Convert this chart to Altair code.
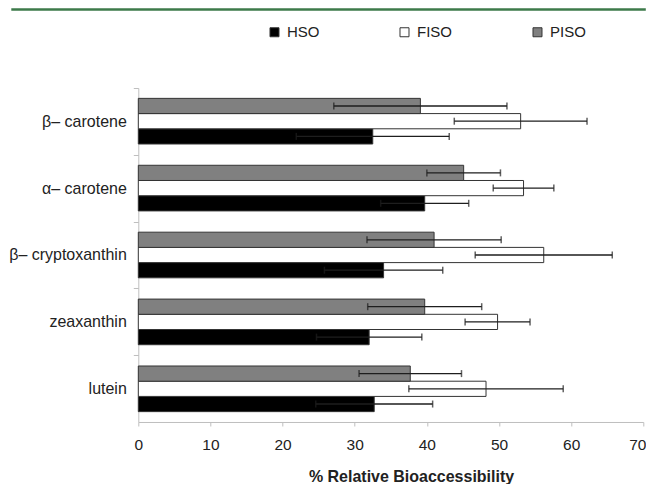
import altair as alt
import pandas as pd

categories = ["β– carotene", "α– carotene", "β– cryptoxanthin", "zeaxanthin", "lutein"]
series = ["HSO", "FISO", "PISO"]
hso_mean = [32.5, 39.7, 34.0, 32.0, 32.7]
hso_err = [10.6, 6.1, 8.2, 7.3, 8.1]
fiso_mean = [53.0, 53.4, 56.2, 49.8, 48.2]
fiso_err = [9.2, 4.2, 9.5, 4.5, 10.7]
piso_mean = [39.1, 45.1, 41.0, 39.7, 37.7]
piso_err = [12.0, 5.1, 9.3, 7.9, 7.1]
x_ticks = [0, 10, 20, 30, 40, 50, 60, 70]

rows = []
for s, means, errs in [("HSO", hso_mean, hso_err), ("FISO", fiso_mean, fiso_err), ("PISO", piso_mean, piso_err)]:
    for c, m, e in zip(categories, means, errs):
        rows.append({"cat": c, "series": s, "value": m, "lo": m - e, "hi": m + e})
df = pd.DataFrame(rows)

W, H = 505, 334
PI, PO = 0.318, 0.155
step = H / (len(categories) - PI + 2 * PO)

font = "Liberation Sans"

y_enc = alt.Y("cat:N", sort=categories, title=None,
              scale=alt.Scale(paddingInner=PI, paddingOuter=PO),
              axis=alt.Axis(domainColor="#bfbfbf", tickColor="#bfbfbf", tickSize=5,
                            tickOffset=-step / 2, labelOffset=step / 2,
                            labelFont=font, labelFontSize=16, labelColor="#222",
                            labelPadding=7, labelLimit=200))
yoff = alt.YOffset("series:N", sort=["PISO", "FISO", "HSO"],
                   scale=alt.Scale(domain=["PISO", "FISO", "HSO"], paddingInner=0, paddingOuter=0))

bars = alt.Chart(df).mark_bar(stroke="#333", strokeWidth=1).encode(
    x=alt.X("value:Q", scale=alt.Scale(domain=[0, 70], nice=False),
            title="% Relative Bioaccessibility",
            axis=alt.Axis(values=x_ticks, grid=False, domainColor="#bfbfbf", tickColor="#bfbfbf",
                          tickSize=4, labelFont=font, labelFontSize=15.5, labelColor="#222",
                          labelPadding=12, labelFlush=False, labelOverlap=False,
                          labelOffset={"condition": {"test": "datum.value === 70", "value": -6}, "value": 0},
                          titleFont=font, titleFontSize=16, titleFontWeight="bold",
                          titleColor="#222", titleX=272.7, titleY=60, titleBaseline="alphabetic")),
    y=y_enc,
    yOffset=yoff,
    color=alt.Color("series:N", scale=alt.Scale(domain=series, range=["#000000", "#ffffff", "#808080"]),
                    legend=alt.Legend(title=None, orient="none", direction="horizontal",
                                      legendX=128.7, legendY=-63.5, symbolType="square", symbolSize=81,
                                      symbolStrokeColor="#333", symbolStrokeWidth=1,
                                      labelFont=font, labelFontSize=15, labelColor="#222",
                                      labelOffset=5, columnPadding=77, padding=0)),
)

err_line = alt.Chart(df).mark_rule(color="#1e1e1e", strokeWidth=1.3).encode(
    x="lo:Q", x2="hi:Q", y=alt.Y("cat:N", sort=categories), yOffset=yoff)
cap_lo = alt.Chart(df).mark_tick(color="#1e1e1e", thickness=1.5, size=7, orient="vertical").encode(
    x="lo:Q", y=alt.Y("cat:N", sort=categories), yOffset=yoff)
cap_hi = alt.Chart(df).mark_tick(color="#1e1e1e", thickness=1.5, size=7, orient="vertical").encode(
    x="hi:Q", y=alt.Y("cat:N", sort=categories), yOffset=yoff)

green = alt.Chart(pd.DataFrame({"a": [0]})).mark_rule(color="#3d7a4a", strokeWidth=2.4).encode(
    x=alt.value(-127), x2=alt.value(507.5), y=alt.value(-78.5))

chart = alt.layer(bars, err_line, cap_lo, cap_hi, green).properties(
    width=W, height=H,
    autosize=alt.AutoSizeParams(type="none"),
    padding={"left": 130.3, "top": 80, "right": 2.5, "bottom": 64},
).configure_view(stroke=None)

chart.save("out.html", embed_options={"renderer": "svg", "actions": False})
